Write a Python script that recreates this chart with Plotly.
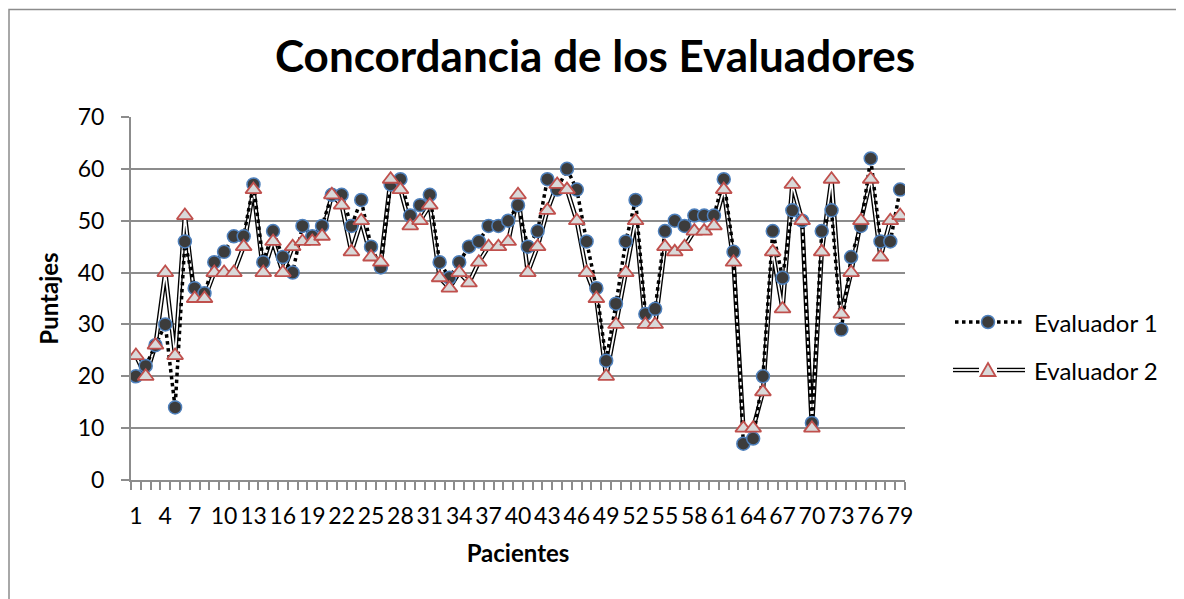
import plotly.graph_objects as go

pacientes = list(range(1, 80))
evaluador1 = [20, 22, 26, 30, 14, 46, 37, 36, 42, 44, 47, 47, 57, 42, 48, 43, 40, 49, 47, 49,
              55, 55, 49, 54, 45, 41, 57, 58, 51, 53, 55, 42, 39, 42, 45, 46, 49, 49, 50, 53,
              45, 48, 58, 56, 60, 56, 46, 37, 23, 34, 46, 54, 32, 33, 48, 50, 49, 51, 51, 51,
              58, 44, 7, 8, 20, 48, 39, 52, 50, 11, 48, 52, 29, 43, 49, 62, 46, 46, 56]
evaluador2 = [24, 20, 26, 40, 24, 51, 35, 35, 40, 40, 40, 45, 56, 40, 46, 40, 45, 46, 46, 47,
              55, 53, 44, 50, 43, 42, 58, 56, 49, 50, 53, 39, 37, 40, 38, 42, 45, 45, 46, 55,
              40, 45, 52, 57, 56, 50, 40, 35, 20, 30, 40, 50, 30, 30, 45, 44, 45, 48, 48, 49,
              56, 42, 10, 10, 17, 44, 33, 57, 50, 10, 44, 58, 32, 40, 50, 58, 43, 50, 51]
x_labels = [str(v) for v in range(1, 80, 3)]
series_names = ["Evaluador 1", "Evaluador 2"]

FONT = "Lato"
C1_FILL, C1_EDGE = "#3c3c3c", "#4f81bd"
C2_FILL, C2_EDGE = "#d9d9d9", "#c0504d"

# plot-area geometry (page pixels)
L, T, W, H = 123, 109, 774, 363
PX0, PY0 = L + 8, T + 8  # page offset of the plot area (body margin)


def px(xp):
    return (xp - PX0) / W


def py(yp):
    return (PY0 + H - yp) / H


fig = go.Figure()

# Evaluador 2: double line emulated with a thick black line and a thin white core
fig.add_trace(go.Scatter(x=pacientes, y=evaluador2, mode="lines",
                         line=dict(color="black", width=4.5), showlegend=False,
                         hoverinfo="skip"))
fig.add_trace(go.Scatter(x=pacientes, y=evaluador2, mode="lines",
                         line=dict(color="white", width=1.8), showlegend=False,
                         hoverinfo="skip"))
# Evaluador 1
fig.add_trace(go.Scatter(x=pacientes, y=evaluador1, mode="lines+markers", name=series_names[0],
                         showlegend=False,
                         line=dict(color="black", width=3.5, dash="dot"),
                         marker=dict(symbol="circle", size=13, color=C1_FILL,
                                     line=dict(color=C1_EDGE, width=1.5))))
fig.add_trace(go.Scatter(x=pacientes, y=evaluador2, mode="markers", name=series_names[1],
                         showlegend=False,
                         marker=dict(symbol="triangle-up", size=14, color=C2_FILL,
                                     line=dict(color=C2_EDGE, width=1.8))))

fig.update_layout(
    width=1184, height=599,
    margin=dict(l=L, r=1184 - L - W, t=T, b=599 - T - H),
    paper_bgcolor="white", plot_bgcolor="white",
    font=dict(family=FONT, size=23, color="black"),
    title=dict(text="<b>Concordancia de los Evaluadores</b>", x=(595 - 8) / 1184,
               xanchor="center", xref="container", y=1 - (57 - 8) / 599, yanchor="middle",
               yref="container", font=dict(family=FONT, size=44, color="black")),
    showlegend=False,
)
fig.update_xaxes(range=[0.5, 79.5], tickmode="array", tickvals=list(range(1, 80, 3)),
                 ticktext=x_labels, ticks="", showgrid=False, zeroline=False,
                 showline=True, linecolor="#8c8c8c", linewidth=2,
                 ticklabelstandoff=14,
                 tickfont=dict(family=FONT, size=23),
                 minor=dict(tickmode="linear", tick0=0.5, dtick=1, ticks="outside",
                            ticklen=8, tickcolor="#8c8c8c", tickwidth=1.5, showgrid=False),
                 title=dict(text="<b>Pacientes</b>", font=dict(family=FONT, size=24), standoff=18))
fig.update_yaxes(range=[0, 70], dtick=10, ticks="outside", ticklen=8, tickcolor="#8c8c8c",
                 tickwidth=1.5, showgrid=True, gridcolor="#8c8c8c", gridwidth=2,
                 zeroline=False, showline=True, linecolor="#8c8c8c", linewidth=2,
                 ticklabelstandoff=12,
                 tickfont=dict(family=FONT, size=23),
                 title=dict(text="<b>Puntajes</b>", font=dict(family=FONT, size=24), standoff=12))

# outer chart border
fig.add_shape(type="rect", xref="paper", yref="paper", x0=px(9), x1=px(1200), y0=py(620),
              y1=py(9.5), line=dict(color="#8c8c8c", width=1.5), fillcolor="rgba(0,0,0,0)",
              layer="below")

# manual legend
ly1, ly2 = 322, 370
# Evaluador 1: dotted line + circle
fig.add_shape(type="line", xref="paper", yref="paper", x0=px(955), x1=px(1022), y0=py(ly1),
              y1=py(ly1), line=dict(color="black", width=3.5, dash="dot"))
r = 6.5
fig.add_shape(type="circle", xref="paper", yref="paper", x0=px(988 - r), x1=px(988 + r),
              y0=py(ly1 + r), y1=py(ly1 - r), fillcolor=C1_FILL,
              line=dict(color=C1_EDGE, width=1.5))
# Evaluador 2: double line + triangle
for xa, xb in [(953, 979), (997, 1025)]:
    fig.add_shape(type="line", xref="paper", yref="paper", x0=px(xa), x1=px(xb), y0=py(ly2),
                  y1=py(ly2), line=dict(color="black", width=4.5))
    fig.add_shape(type="line", xref="paper", yref="paper", x0=px(xa), x1=px(xb), y0=py(ly2),
                  y1=py(ly2), line=dict(color="white", width=1.8))
tri = "M {:.5f},{:.5f} L {:.5f},{:.5f} L {:.5f},{:.5f} Z".format(
    px(988), py(ly2 - 7), px(995.5), py(ly2 + 6), px(980.5), py(ly2 + 6))
fig.add_shape(type="path", xref="paper", yref="paper", path=tri, fillcolor=C2_FILL,
              line=dict(color=C2_EDGE, width=1.8))
for name, yy in zip(series_names, [ly1, ly2]):
    fig.add_annotation(x=px(1032), y=py(yy), xref="paper", yref="paper", text=name,
                       showarrow=False, xanchor="left", yanchor="middle",
                       font=dict(family=FONT, size=24, color="black"))

fig.write_html("out.html")
